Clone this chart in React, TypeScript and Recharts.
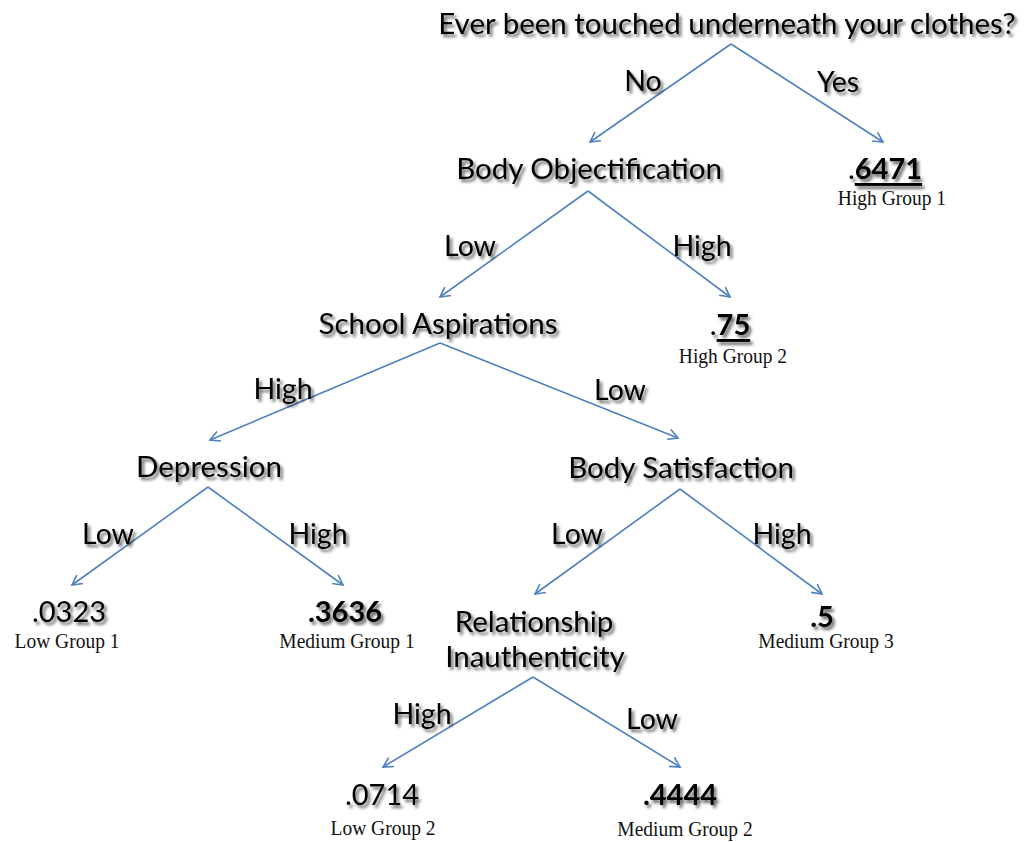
import React from 'react';
import { ComposedChart, XAxis, YAxis, Scatter, ReferenceLine } from 'recharts';

const W = 1029;
const H = 842;

// Split (question) nodes
const questionLabels = [
  'Ever been touched underneath your clothes?',
  'Body Objectification',
  'School Aspirations',
  'Depression',
  'Body Satisfaction',
  'Relationship',
  'Inauthenticity',
];
const questionX = [727, 589, 438, 209, 681, 534, 535];
const questionY = [22, 167, 322, 465, 466, 620, 655];

// Leaf values
const leafValues = ['.6471', '.75', '.0323', '.3636', '.5', '.0714', '.4444'];
const leafBold = [true, true, false, true, true, false, true];
const leafUnderline = [true, true, false, false, false, false, false];
const leafX = [885, 730, 69, 345, 822, 382, 680];
const leafY = [167, 323, 610, 610, 615, 793, 793];

// Group names under leaves (baseline positions)
const groupLabels = ['High Group 1', 'High Group 2', 'Low Group 1', 'Medium Group 1', 'Medium Group 3', 'Low Group 2', 'Medium Group 2'];
const groupX = [892, 733, 67, 347, 826, 383, 685];
const groupY = [205, 363, 648, 648, 648, 835, 836];

// Branches
const branchLabels = ['No', 'Yes', 'Low', 'High', 'High', 'Low', 'Low', 'High', 'Low', 'High', 'High', 'Low'];
const branchFromX = [731, 731, 588, 588, 440, 440, 208, 208, 680, 680, 533, 533];
const branchFromY = [44, 44, 191, 191, 343, 343, 487, 487, 489, 489, 677, 677];
const branchToX = [590, 883, 440, 730, 210, 678, 72, 343, 535, 822, 383, 680];
const branchToY = [142, 142, 297, 297, 440, 438, 585, 585, 594, 594, 767, 767];
const branchLabelX = [643, 838, 470, 702, 283, 620, 108, 318, 577, 782, 422, 652];
const branchLabelY = [80, 81, 245, 245, 388, 389, 533, 533, 533, 533, 713, 718];

const questions = questionLabels.map((label, i) => ({ x: questionX[i], y: questionY[i], label }));
const leaves = leafValues.map((label, i) => ({ x: leafX[i], y: leafY[i], label, bold: leafBold[i], underline: leafUnderline[i] }));
const groups = groupLabels.map((label, i) => ({ x: groupX[i], y: groupY[i], label }));
const branches = branchLabels.map((label, i) => ({ x: branchLabelX[i], y: branchLabelY[i], label }));
const edges = branchLabels.map((_, i) => ({ x1: branchFromX[i], y1: branchFromY[i], x2: branchToX[i], y2: branchToY[i] }));

const SANS = 'Lato, Carlito, Calibri, sans-serif';
const SERIF = '"Liberation Serif", "Times New Roman", serif';
const BLUE = '#4F81BD';

const ArrowShape = (p: any) => {
  const { x1, y1, x2, y2 } = p;
  const a = Math.atan2(y1 - y2, x1 - x2);
  const L = 11;
  const s = (28 * Math.PI) / 180;
  const ax = x2 + L * Math.cos(a + s);
  const ay = y2 + L * Math.sin(a + s);
  const bx = x2 + L * Math.cos(a - s);
  const by = y2 + L * Math.sin(a - s);
  return (
    <g>
      <line x1={x1} y1={y1} x2={x2} y2={y2} stroke={BLUE} strokeWidth={1.6} />
      <polyline points={`${ax},${ay} ${x2},${y2} ${bx},${by}`} fill="none" stroke={BLUE} strokeWidth={1.6} />
    </g>
  );
};

const QuestionText = (p: any) => (
  <text x={p.cx} y={p.cy} textAnchor="middle" dominantBaseline="central" fontFamily={SANS} fontSize={29.5} fill="#000" filter="url(#ts)">
    {p.payload.label}
  </text>
);

const BranchText = (p: any) => (
  <text x={p.cx} y={p.cy} textAnchor="middle" dominantBaseline="central" fontFamily={SANS} fontSize={28.5} fill="#000" filter="url(#ts)">
    {p.payload.label}
  </text>
);

const LeafText = (p: any) => {
  const { label, bold, underline } = p.payload;
  if (underline) {
    return (
      <text x={p.cx} y={p.cy} textAnchor="middle" dominantBaseline="central" fontFamily={SANS} fontSize={29} fill="#000" filter="url(#ts)">
        <tspan>{label.slice(0, 1)}</tspan>
        <tspan fontWeight="bold" textDecoration="underline">{label.slice(1)}</tspan>
      </text>
    );
  }
  return (
    <text x={p.cx} y={p.cy} textAnchor="middle" dominantBaseline="central" fontFamily={SANS} fontSize={29} fontWeight={bold ? 'bold' : 'normal'} fill="#000" filter="url(#ts)">
      {label}
    </text>
  );
};

const GroupText = (p: any) => (
  <g transform={`translate(0 ${p.cy}) scale(1 1.1) translate(0 ${-p.cy})`}>
    <text x={p.cx} y={p.cy} textAnchor="middle" fontFamily={SERIF} fontSize={19.5} fill="#111">
      {p.payload.label}
    </text>
  </g>
);

export default function App() {
  return (
    <div style={{ position: 'absolute', left: 0, top: 0, width: W, height: H, background: '#fff' }}>
      <ComposedChart width={W} height={H} margin={{ top: 0, right: 0, bottom: 0, left: 0 }}>
        <defs>
          <filter id="ts" x="-10%" y="-40%" width="130%" height="190%">
            <feDropShadow dx="2.5" dy="3" stdDeviation="1.6" floodColor="#000" floodOpacity="0.6" />
          </filter>
        </defs>
        <XAxis type="number" dataKey="x" domain={[0, W]} hide allowDataOverflow />
        <YAxis type="number" dataKey="y" domain={[0, H]} reversed hide allowDataOverflow />
        {edges.map((e, i) => (
          <ReferenceLine
            key={i}
            segment={[{ x: e.x1, y: e.y1 }, { x: e.x2, y: e.y2 }]}
            stroke={BLUE}
            ifOverflow="visible"
            shape={ArrowShape}
          />
        ))}
        <Scatter name="questions" data={questions} shape={QuestionText} isAnimationActive={false} />
        <Scatter name="branches" data={branches} shape={BranchText} isAnimationActive={false} />
        <Scatter name="leaves" data={leaves} shape={LeafText} isAnimationActive={false} />
        <Scatter name="groups" data={groups} shape={GroupText} isAnimationActive={false} />
      </ComposedChart>
    </div>
  );
}
